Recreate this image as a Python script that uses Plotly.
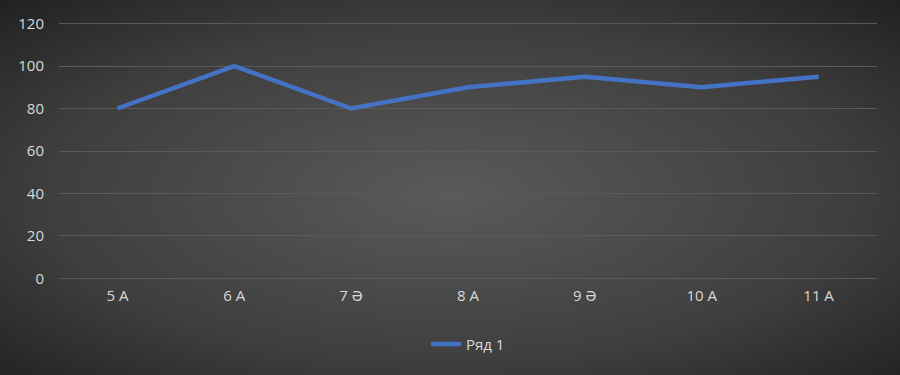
import base64
import plotly.graph_objects as go

categories = ["5 A", "6 A", "7 Ə", "8 A", "9 Ə", "10 A", "11 A"]
values = [80, 100, 80, 90, 95, 90, 95]
series_name = "Ряд 1"
y_ticks = [0, 20, 40, 60, 80, 100, 120]

W, H = 900, 375
L, R, T, B = 59, 23, 23, 96
pw, ph = W - L - R, H - T - B

svg = f'''<svg xmlns="http://www.w3.org/2000/svg" width="{W}" height="{H}" viewBox="0 0 {W} {H}" preserveAspectRatio="none">
<defs><radialGradient id="g" cx="50%" cy="52%" r="75%" gradientUnits="objectBoundingBox">
<stop offset="0" stop-color="#5a5a5a"/><stop offset="0.6" stop-color="#3e3e3e"/><stop offset="1" stop-color="#1e1e1e"/>
</radialGradient></defs>
<rect width="{W}" height="{H}" fill="url(#g)"/></svg>'''
src = "data:image/svg+xml;base64," + base64.b64encode(svg.encode()).decode()

fig = go.Figure()
fig.add_trace(go.Scatter(
    x=categories, y=values, mode="lines", name=series_name,
    line=dict(color="#4472C4", width=4.5),
))

grid_col = "#5a5a5a"
fnt = "Open Sans, Noto Sans, sans-serif"
fig.update_layout(
    width=W, height=H,
    margin=dict(l=L, r=R, t=T, b=B),
    paper_bgcolor="#262626",
    plot_bgcolor="rgba(0,0,0,0)",
    font=dict(family=fnt, size=15, color="#d9d9d9"),
    showlegend=True,
    legend=dict(orientation="h", x=0.5, xanchor="center", y=-0.19, yanchor="top",
                font=dict(size=15, color="#d9d9d9"), bgcolor="rgba(0,0,0,0)"),
    images=[dict(source=src, xref="paper", yref="paper",
                 x=-L / pw, y=1 + T / ph, sizex=W / pw, sizey=H / ph,
                 xanchor="left", yanchor="top", sizing="stretch", layer="below")],
    shapes=[dict(type="line", xref="paper", yref="y", x0=0, x1=1,
                 y0=y_ticks[-1], y1=y_ticks[-1], line=dict(color=grid_col, width=1),
                 layer="below")],
    xaxis=dict(type="category", showgrid=False, zeroline=False, showline=False,
               ticks="", ticklabelstandoff=6, tickfont=dict(size=15, color="#d9d9d9"),
               range=[-0.5, 6.5]),
    yaxis=dict(range=[-0.25, 120.25], tickvals=y_ticks, showgrid=True,
               gridcolor=grid_col, gridwidth=1, zeroline=True, zerolinecolor=grid_col,
               zerolinewidth=1, showline=False,
               ticks="", ticklabelstandoff=14, tickfont=dict(size=15, color="#d9d9d9")),
)

fig.write_html("out.html", config={"displayModeBar": False},
               post_script="document.body.style.margin='0';document.body.style.padding='0';")
